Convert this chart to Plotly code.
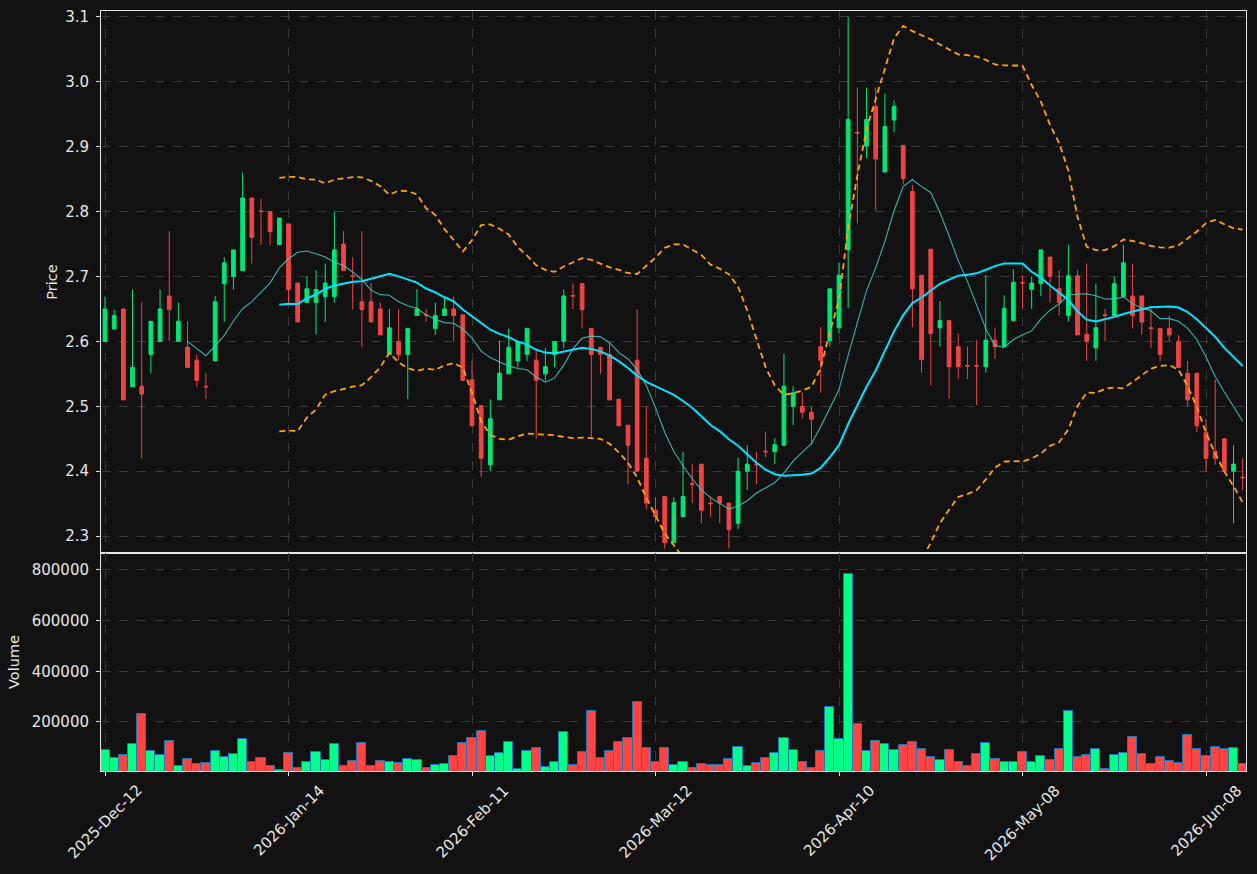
import plotly.graph_objects as go
import pandas as pd

# ---------------- data ----------------
open_ = [2.600, 2.619, 2.650, 2.530, 2.531, 2.580, 2.600, 2.670, 2.600, 2.591,
         2.571, 2.531, 2.570, 2.689, 2.700, 2.709, 2.821, 2.801, 2.800, 2.749,
         2.781, 2.690, 2.660, 2.660, 2.669, 2.669, 2.750, 2.701, 2.661, 2.661,
         2.650, 2.580, 2.600, 2.580, 2.640, 2.641, 2.620, 2.640, 2.650, 2.641,
         2.541, 2.501, 2.410, 2.510, 2.550, 2.570, 2.580, 2.571, 2.550, 2.580,
         2.600, 2.671, 2.689, 2.620, 2.591, 2.580, 2.511, 2.471, 2.571, 2.420,
         2.340, 2.361, 2.290, 2.330, 2.381, 2.411, 2.351, 2.361, 2.351, 2.320,
         2.400, 2.411, 2.431, 2.430, 2.440, 2.500, 2.500, 2.491, 2.592, 2.601,
         2.621, 2.741, 2.922, 2.901, 2.962, 2.861, 2.941, 2.902, 2.831, 2.702,
         2.742, 2.621, 2.632, 2.592, 2.563, 2.563, 2.561, 2.602, 2.592, 2.632,
         2.691, 2.680, 2.689, 2.730, 2.681, 2.640, 2.701, 2.611, 2.590, 2.641,
         2.640, 2.669, 2.670, 2.670, 2.621, 2.620, 2.620, 2.600, 2.551, 2.551,
         2.460, 2.431, 2.450, 2.400, 2.391]
high = [2.669, 2.649, 2.650, 2.680, 2.660, 2.631, 2.680, 2.770, 2.660, 2.631,
        2.580, 2.551, 2.670, 2.730, 2.741, 2.860, 2.821, 2.820, 2.800, 2.790,
        2.781, 2.690, 2.700, 2.710, 2.720, 2.800, 2.770, 2.730, 2.770, 2.690,
        2.660, 2.650, 2.650, 2.620, 2.681, 2.650, 2.660, 2.669, 2.669, 2.641,
        2.570, 2.501, 2.511, 2.601, 2.620, 2.600, 2.620, 2.589, 2.590, 2.600,
        2.680, 2.689, 2.689, 2.620, 2.591, 2.599, 2.511, 2.471, 2.649, 2.500,
        2.360, 2.361, 2.360, 2.430, 2.411, 2.411, 2.361, 2.361, 2.351, 2.421,
        2.440, 2.430, 2.461, 2.451, 2.581, 2.531, 2.521, 2.500, 2.622, 2.681,
        2.721, 3.100, 2.991, 2.991, 2.991, 2.982, 2.971, 2.902, 2.841, 2.702,
        2.742, 2.662, 2.632, 2.612, 2.592, 2.602, 2.702, 2.621, 2.671, 2.711,
        2.702, 2.700, 2.741, 2.730, 2.710, 2.749, 2.710, 2.720, 2.689, 2.650,
        2.700, 2.749, 2.720, 2.670, 2.650, 2.620, 2.640, 2.610, 2.570, 2.551,
        2.480, 2.541, 2.450, 2.440, 2.420]
low = [2.600, 2.619, 2.510, 2.530, 2.420, 2.551, 2.600, 2.600, 2.600, 2.560,
       2.530, 2.511, 2.570, 2.630, 2.680, 2.709, 2.720, 2.749, 2.749, 2.749,
       2.658, 2.630, 2.660, 2.611, 2.630, 2.660, 2.709, 2.649, 2.591, 2.630,
       2.610, 2.580, 2.571, 2.511, 2.640, 2.630, 2.610, 2.640, 2.600, 2.540,
       2.470, 2.391, 2.400, 2.510, 2.550, 2.560, 2.570, 2.450, 2.540, 2.560,
       2.589, 2.650, 2.620, 2.452, 2.550, 2.510, 2.470, 2.380, 2.400, 2.341,
       2.322, 2.281, 2.290, 2.330, 2.351, 2.320, 2.330, 2.320, 2.281, 2.311,
       2.371, 2.380, 2.421, 2.411, 2.440, 2.471, 2.481, 2.441, 2.521, 2.592,
       2.612, 2.651, 2.782, 2.882, 2.802, 2.861, 2.922, 2.842, 2.622, 2.552,
       2.532, 2.592, 2.512, 2.542, 2.542, 2.502, 2.552, 2.573, 2.592, 2.632,
       2.650, 2.650, 2.670, 2.660, 2.640, 2.630, 2.610, 2.570, 2.570, 2.600,
       2.640, 2.669, 2.620, 2.611, 2.590, 2.570, 2.600, 2.560, 2.500, 2.460,
       2.400, 2.410, 2.400, 2.320, 2.371]
close = [2.650, 2.640, 2.510, 2.560, 2.519, 2.631, 2.650, 2.649, 2.631, 2.560,
         2.540, 2.530, 2.661, 2.721, 2.741, 2.821, 2.760, 2.800, 2.769, 2.790,
         2.680, 2.630, 2.681, 2.680, 2.690, 2.741, 2.709, 2.700, 2.649, 2.630,
         2.610, 2.621, 2.580, 2.620, 2.650, 2.640, 2.640, 2.650, 2.640, 2.540,
         2.470, 2.420, 2.481, 2.551, 2.591, 2.600, 2.620, 2.540, 2.561, 2.600,
         2.670, 2.670, 2.649, 2.580, 2.580, 2.510, 2.470, 2.440, 2.400, 2.351,
         2.330, 2.290, 2.352, 2.361, 2.380, 2.340, 2.350, 2.351, 2.310, 2.400,
         2.411, 2.410, 2.430, 2.441, 2.531, 2.521, 2.491, 2.480, 2.571, 2.681,
         2.702, 2.942, 2.921, 2.942, 2.881, 2.931, 2.962, 2.851, 2.681, 2.572,
         2.612, 2.632, 2.561, 2.561, 2.562, 2.562, 2.602, 2.592, 2.651, 2.691,
         2.690, 2.690, 2.741, 2.700, 2.660, 2.701, 2.610, 2.600, 2.621, 2.640,
         2.689, 2.721, 2.640, 2.630, 2.620, 2.580, 2.610, 2.560, 2.510, 2.470,
         2.420, 2.420, 2.400, 2.411, 2.390]
volume = [88700, 57000, 68900, 112600, 231800, 84800, 68900, 124500, 23800, 53000,
          33000, 37000, 84800, 61000, 72800, 132500, 41000, 57000, 25000, 9300,
          76800, 17000, 41000, 80800, 49000, 112600, 25000, 45000, 116600, 25000,
          45000, 41000, 37000, 53000, 49000, 17000, 29000, 33000, 65000, 116600,
          136400, 164000, 65000, 76800, 120500, 13000, 84800, 96700, 21000, 41000,
          160300, 29000, 80800, 243700, 57000, 84800, 120500, 136400, 279500, 96700,
          41000, 96700, 29000, 41000, 17000, 33000, 29000, 29000, 53000, 100700,
          25000, 37000, 57000, 76800, 136400, 88700, 41000, 17000, 84800, 259600,
          132500, 784000, 192000, 84800, 124500, 112600, 88700, 108600, 120500, 92700,
          61000, 49000, 88700, 41000, 25000, 72800, 116600, 53000, 41000, 41000,
          80800, 41000, 65000, 49000, 92700, 243700, 61000, 68900, 92700, 13000,
          68900, 76800, 140400, 72800, 33000, 61000, 45000, 37000, 148300, 92700,
          65000, 100700, 92700, 96700, 33000]

tick_labels = ["2025-Dec-12", "2026-Jan-14", "2026-Feb-11", "2026-Mar-12",
               "2026-Apr-10", "2026-May-08", "2026-Jun-08"]
tick_step = 20

# ---------------- derived indicators ----------------
n = len(close)
idx = list(range(n))
s = pd.Series(close)
ma10 = s.rolling(10).mean()
ma20 = s.rolling(20).mean()
sd20 = s.rolling(20).std(ddof=0)
bb_up = ma20 + 2 * sd20
bb_lo = ma20 - 2 * sd20

UP_C, DN_C = "#00e676", "#ef4444"
VUP_C, VDN_C = "#00ff88", "#ff4444"
vol_colors = [VUP_C if c >= o else VDN_C for o, c in zip(open_, close)]

BG = "#121212"
GRID = "#3a3a3a"
AX = "#e6e6e6"
TICKFONT = dict(family="DejaVu Sans", size=15, color=AX)
TITLEFONT = dict(family="DejaVu Sans", size=14.5, color=AX)

fig = go.Figure()
fig.add_trace(go.Candlestick(
    x=idx, open=open_, high=high, low=low, close=close,
    increasing=dict(line=dict(color=UP_C, width=1), fillcolor=UP_C),
    decreasing=dict(line=dict(color=DN_C, width=1), fillcolor=DN_C),
    xaxis="x", yaxis="y", showlegend=False, hoverinfo="skip"))
fig.add_trace(go.Scatter(x=idx, y=bb_up, mode="lines",
                         line=dict(color="#ffa500", width=1.8, dash="6px,4px"),
                         xaxis="x", yaxis="y"))
fig.add_trace(go.Scatter(x=idx, y=bb_lo, mode="lines",
                         line=dict(color="#ffa500", width=1.8, dash="6px,4px"),
                         xaxis="x", yaxis="y"))
fig.add_trace(go.Scatter(x=idx, y=ma10, mode="lines",
                         line=dict(color="rgba(64,208,200,0.85)", width=1.1),
                         xaxis="x", yaxis="y"))
fig.add_trace(go.Scatter(x=idx, y=ma20, mode="lines",
                         line=dict(color="#00e5ff", width=2),
                         xaxis="x", yaxis="y"))
fig.add_trace(go.Bar(x=idx, y=volume, width=1.0,
                     marker=dict(color=vol_colors, line=dict(color="#1f77b4", width=1)),
                     xaxis="x2", yaxis="y2"))

tickvals = [i * tick_step for i in range(len(tick_labels))]
xrange_ = [-0.436, n - 0.64]
split = 0.2868

common_x = dict(range=xrange_, showgrid=True, gridcolor=GRID, griddash="dash", gridwidth=1,
                tickvals=tickvals, showline=True, mirror=True, linecolor=AX, linewidth=1,
                zeroline=False, ticks="outside", ticklen=4, tickcolor=AX,
                showticklabels=False, automargin=False, fixedrange=True)

# date labels: rotated 45 degrees, centred under each tick (matplotlib style)
annotations = [dict(x=tv, xref="x2", y=-0.0105, yref="paper", text=lab,
                    textangle=-45, xanchor="center", yanchor="top", showarrow=False,
                    font=TICKFONT)
               for tv, lab in zip(tickvals, tick_labels)]

fig.update_layout(
    width=1257, height=874,
    margin=dict(l=101, r=11, t=11, b=103),
    paper_bgcolor=BG, plot_bgcolor=BG, font=TICKFONT,
    showlegend=False, bargap=0, boxgap=0.42,
    annotations=annotations,
    xaxis=dict(**common_x, domain=[0, 1], anchor="y", rangeslider=dict(visible=False)),
    xaxis2=dict(**common_x, domain=[0, 1], anchor="y2"),
    yaxis=dict(domain=[split, 1], range=[2.274, 3.109], dtick=0.1, tick0=2.3,
               tickformat=".1f", showgrid=True, gridcolor=GRID, griddash="dash",
               showline=True, mirror=True, linecolor=AX, linewidth=1, zeroline=False,
               ticks="outside", ticklen=4, tickcolor=AX, ticklabelstandoff=4,
               tickfont=TICKFONT,
               title=dict(text="Price", font=TITLEFONT, standoff=4),
               automargin=False, anchor="x"),
    yaxis2=dict(domain=[0, split], range=[6000, 867000],
                tickvals=[200000, 400000, 600000, 800000], tickformat="d",
                showgrid=True, gridcolor=GRID, griddash="dash",
                showline=True, mirror=True, linecolor=AX, linewidth=1, zeroline=False,
                ticks="outside", ticklen=4, tickcolor=AX, ticklabelstandoff=4,
                tickfont=TICKFONT,
                title=dict(text="Volume", font=TITLEFONT, standoff=8),
                automargin=False, anchor="x2"),
)

fig.write_html("out.html")
